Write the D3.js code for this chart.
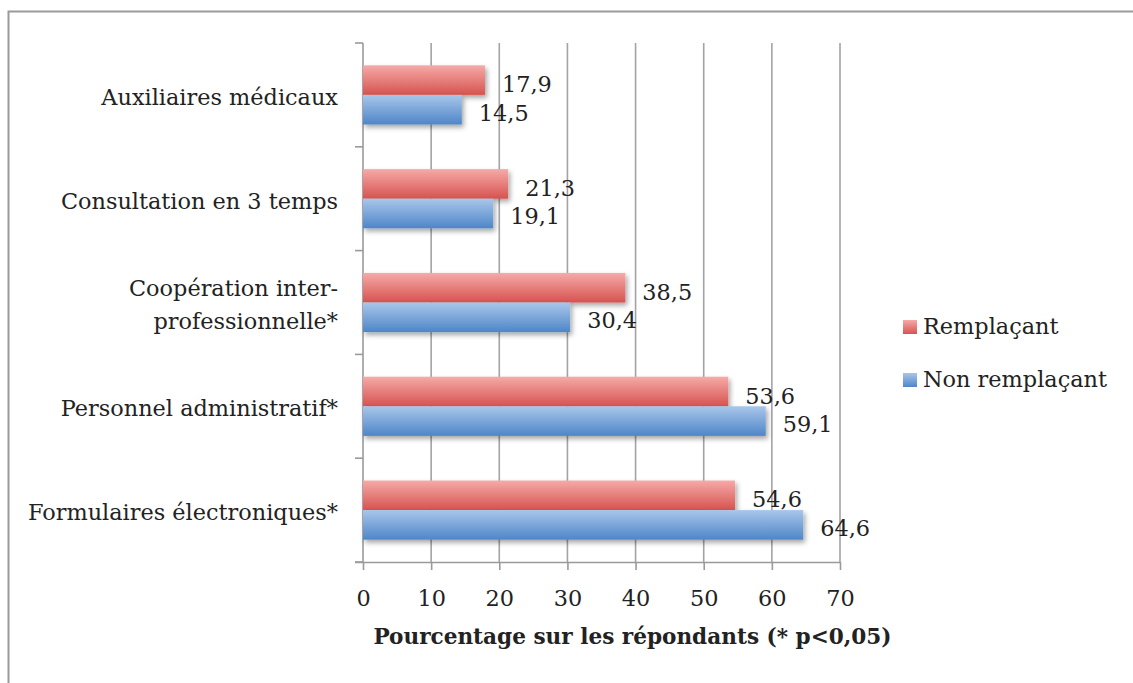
<!DOCTYPE html>
<html><head><meta charset="utf-8">
<script src="https://cdn.jsdelivr.net/npm/d3@7"></script>
<style>body{margin:0;background:#fff}svg{display:block}</style>
</head><body>
<svg id="c" width="1133" height="683"></svg>
<script>
const categories = ["Auxiliaires médicaux","Consultation en 3 temps","Coopération inter-\nprofessionnelle*","Personnel administratif*","Formulaires électroniques*"];
const seriesNames = ["Remplaçant","Non remplaçant"];
const remplacant = [17.9,21.3,38.5,53.6,54.6];
const nonRemplacant = [14.5,19.1,30.4,59.1,64.6];
const xTicks = [0,10,20,30,40,50,60,70];
const axisTitle = "Pourcentage sur les répondants (* p<0,05)";

const svg = d3.select("#c");
const font = "DejaVu Serif, serif";
const fs = 22.4;
const defs = svg.append("defs");
function grad(id, c1, c2){
  const g = defs.append("linearGradient").attr("id",id).attr("x1",0).attr("y1",0).attr("x2",0).attr("y2",1);
  g.append("stop").attr("offset","0%").attr("stop-color",c1);
  g.append("stop").attr("offset","100%").attr("stop-color",c2);
}
grad("gr","#f6aaa8","#d6534f");
grad("gb","#a9c6ea","#4e86c8");
const flt = defs.append("filter").attr("id","sh").attr("x","-10%").attr("y","-30%").attr("width","130%").attr("height","190%");
flt.append("feDropShadow").attr("dx",2).attr("dy",3).attr("stdDeviation",2.5).attr("flood-color","#000").attr("flood-opacity",0.35);

// outer frame
svg.append("path").attr("d","M8.5,690 V11.5 H1140").attr("fill","none").attr("stroke","#9a9a9e").attr("stroke-width",2);

const pLeft=363, pRight=840, pTop=43, pBottom=562;
const x = d3.scaleLinear().domain([0,70]).range([pLeft,pRight]);
const y = d3.scaleBand().domain(categories).range([pTop,pBottom]).paddingInner(0.43).paddingOuter(0.215);

// gridlines
svg.append("g").selectAll("line").data(xTicks.slice(1)).join("line")
  .attr("x1",d=>x(d)).attr("x2",d=>x(d)).attr("y1",pTop).attr("y2",pBottom)
  .attr("stroke","#a3a3a6").attr("stroke-width",1.6);

// y axis line and ticks at boundaries
const bounds = d3.range(categories.length+1).map(i=>pTop+(pBottom-pTop)*i/categories.length);
svg.append("line").attr("x1",pLeft).attr("x2",pLeft).attr("y1",pTop).attr("y2",pBottom).attr("stroke","#9a9a9e").attr("stroke-width",1.6);
svg.append("g").selectAll("line").data(bounds).join("line")
  .attr("x1",pLeft-8).attr("x2",pLeft).attr("y1",d=>d).attr("y2",d=>d).attr("stroke","#9a9a9e").attr("stroke-width",1.6);

// x axis
const xa = svg.append("g").attr("transform",`translate(0,${pBottom})`)
  .call(d3.axisBottom(x).tickValues(xTicks).tickSize(8).tickPadding(20).tickSizeOuter(0));
xa.select(".domain").attr("stroke","#9a9a9e").attr("stroke-width",1.6).attr("d",`M${pLeft-8},0.5H${pRight}`);
xa.selectAll(".tick line").attr("stroke","#9a9a9e").attr("stroke-width",1.6);
xa.selectAll(".tick text").attr("font-family",font).attr("font-size",fs).attr("fill","#222");

const bh = y.bandwidth()/2;
const data = categories.map((c,i)=>({c, r:remplacant[i], n:nonRemplacant[i]}));
const bars = svg.append("g");
bars.selectAll("rect.r").data(data).join("rect").attr("class","r")
  .attr("x",x(0)).attr("y",d=>y(d.c)).attr("width",d=>x(d.r)-x(0)).attr("height",bh)
  .attr("fill","url(#gr)").attr("filter","url(#sh)");
bars.selectAll("rect.n").data(data).join("rect").attr("class","n")
  .attr("x",x(0)).attr("y",d=>y(d.c)+bh).attr("width",d=>x(d.n)-x(0)).attr("height",bh)
  .attr("fill","url(#gb)").attr("filter","url(#sh)");

const fmt = v=>String(v).replace(".",",");
svg.append("g").selectAll("text").data(data).join("text")
  .attr("x",d=>x(d.r)+17).attr("y",d=>y(d.c)+bh/2+6).attr("dominant-baseline","middle")
  .attr("font-family",font).attr("font-size",fs).attr("fill","#222").text(d=>fmt(d.r));
svg.append("g").selectAll("text").data(data).join("text")
  .attr("x",d=>x(d.n)+17).attr("y",d=>y(d.c)+bh*1.5+5).attr("dominant-baseline","middle")
  .attr("font-family",font).attr("font-size",fs).attr("fill","#222").text(d=>fmt(d.n));

// category labels
const cl = svg.append("g").selectAll("text").data(categories).join("text")
  .attr("text-anchor","end").attr("font-family",font).attr("font-size",fs).attr("fill","#222");
cl.each(function(d){
  const lines = d.split("\n");
  const cy = y(d)+y.bandwidth()/2+4;
  const t = d3.select(this);
  lines.forEach((ln,i)=>{
    t.append("tspan").attr("x",338).attr("y",cy+(i-(lines.length-1)/2)*33).attr("dominant-baseline","middle").text(ln);
  });
});

// axis title
svg.append("text").attr("x",(pLeft+pRight)/2+31).attr("y",638).attr("text-anchor","middle").attr("dominant-baseline","middle")
  .attr("font-family",font).attr("font-size",21.6).attr("font-weight","bold").attr("fill","#222").text(axisTitle);

// legend
const lg = svg.append("g");
[["url(#gr)",327],["url(#gb)",380]].forEach(([fill,cy],i)=>{
  lg.append("rect").attr("x",903).attr("y",cy-7).attr("width",14).attr("height",14).attr("fill",fill);
  lg.append("text").attr("x",923).attr("y",cy+1).attr("dominant-baseline","middle")
    .attr("font-family",font).attr("font-size",fs).attr("fill","#222").text(seriesNames[i]);
});
</script>
</body></html>
